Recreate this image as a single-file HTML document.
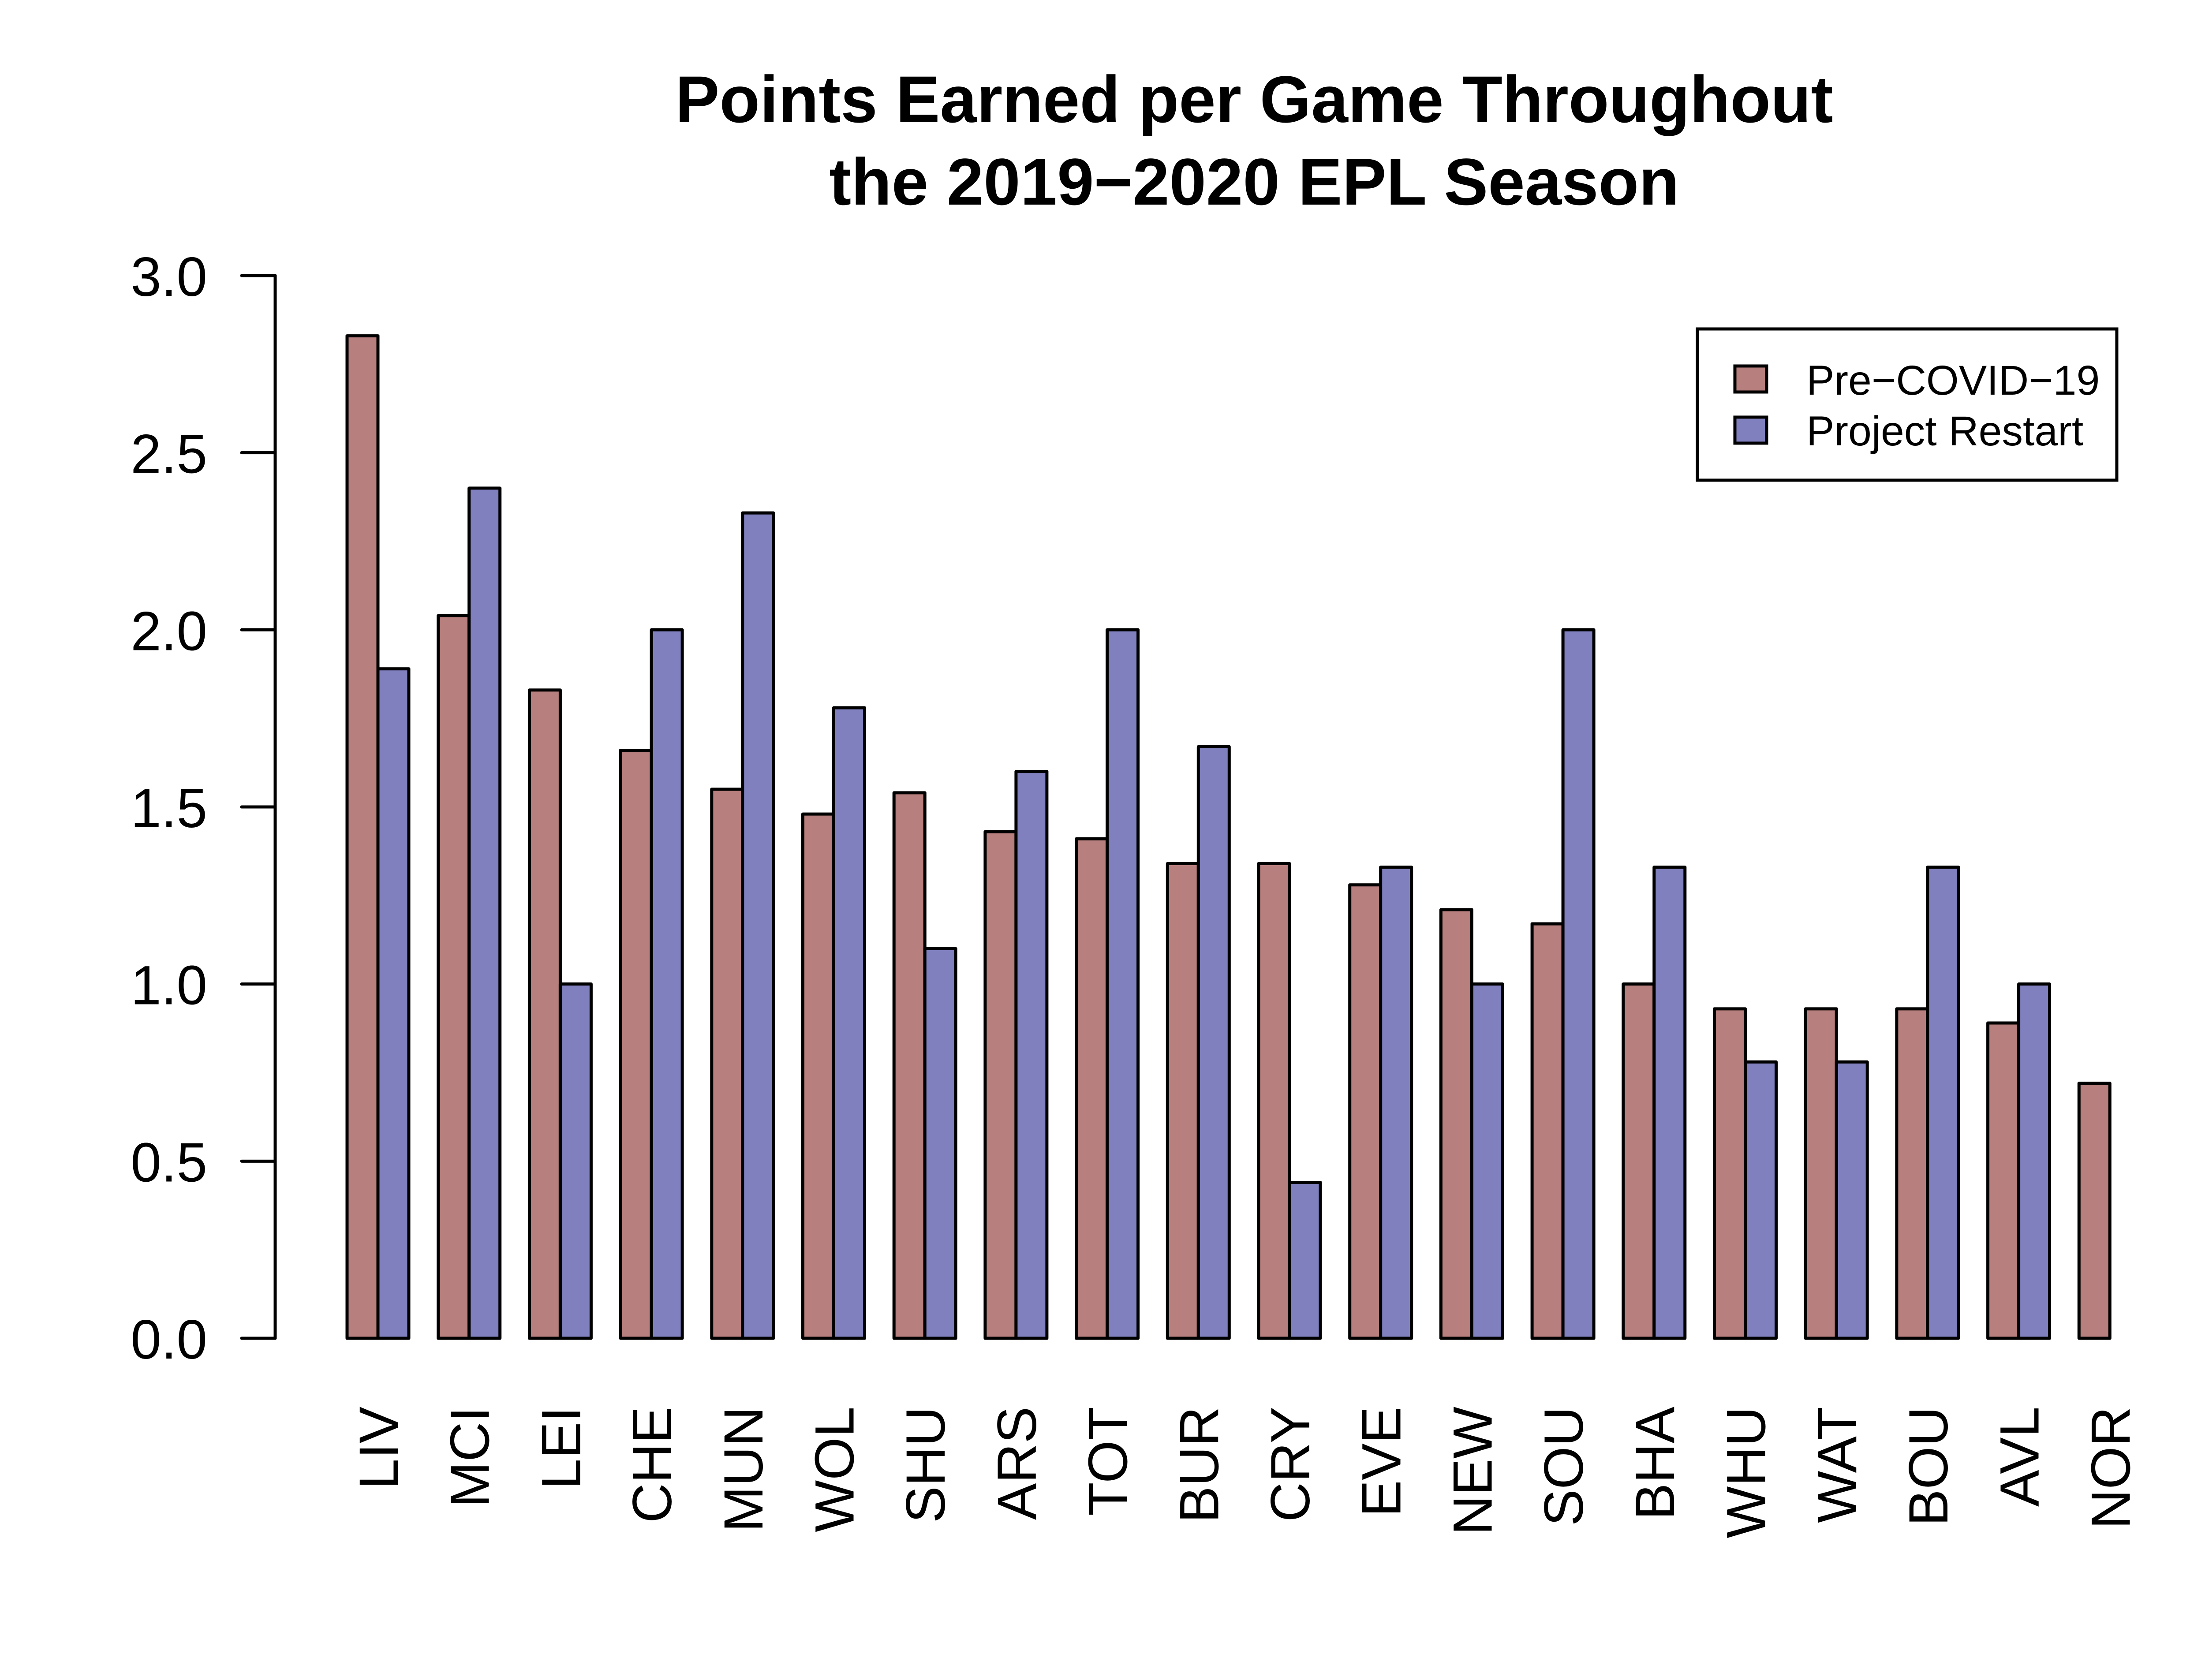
<!DOCTYPE html>
<html><head><meta charset="utf-8"><style>html,body{margin:0;padding:0;background:#fff;width:5334px;height:3810px;overflow:hidden}svg{display:block}</style></head>
<body>
<svg id="chart" xmlns="http://www.w3.org/2000/svg" width="5334" height="3810" viewBox="0 0 5334 3810" font-family="'Liberation Sans', Arial, sans-serif">
<rect width="5334" height="3810" fill="#fff"/>
<g font-weight="bold" font-size="150" text-anchor="middle">
<text x="2844" y="277">Points Earned per Game Throughout</text>
<text x="2844" y="464">the 2019−2020 EPL Season</text>
</g>
<g id="yaxis"></g>
<g id="bars"></g>
<g id="xlabels"></g>
<g>
<rect x="3849" y="746" width="951" height="343" fill="#fff" stroke="#000" stroke-width="7"/>
<rect x="3934" y="830" width="72" height="59" fill="#b77f7d" stroke="#000" stroke-width="7"/>
<rect x="3934" y="946" width="72" height="59" fill="#8080bf" stroke="#000" stroke-width="7"/>
<text x="4096" y="895" font-size="95">Pre−COVID−19</text>
<text x="4096" y="1010" font-size="95">Project Restart</text>
</g>
</svg>
<script>
const teams = ["LIV","MCI","LEI","CHE","MUN","WOL","SHU","ARS","TOT","BUR","CRY","EVE","NEW","SOU","BHA","WHU","WAT","BOU","AVL","NOR"];
const preCovid = [2.83,2.04,1.83,1.66,1.55,1.48,1.54,1.43,1.41,1.34,1.34,1.28,1.21,1.17,1.00,0.93,0.93,0.93,0.89,0.72];
const projectRestart = [1.89,2.40,1.00,2.00,2.33,1.78,1.10,1.60,2.00,1.67,0.44,1.33,1.00,2.00,1.33,0.78,0.78,1.33,1.00,0.00];
const yTicks = [0,0.5,1,1.5,2,2.5,3];
const yTickLabels = ["0.0","0.5","1.0","1.5","2.0","2.5","3.0"];

const NS = "http://www.w3.org/2000/svg";
const y0 = 3035, y3 = 625;
function yScale(v){ return y0 - (v/3)*(y0-y3); }
const barW = 70, groupW = 206.7, x0 = 787;
function xScale(i){ return x0 + i*groupW; }
function mk(tag, attrs, parent){ const e=document.createElementNS(NS,tag); for(const k in attrs) e.setAttribute(k,attrs[k]); parent.appendChild(e); return e; }

const ya = document.getElementById('yaxis');
let l = mk('line',{x1:624,x2:624,y1:yScale(0),y2:yScale(3),stroke:'#000','stroke-width':7,'stroke-linecap':'round'},ya);


yTicks.forEach((t,i)=>{
  const y=yScale(t);
  const tk=mk('line',{x1:548,x2:624,y1:y,y2:y,stroke:'#000','stroke-width':7,'stroke-linecap':'round'},ya);
  
  
  const tx=mk('text',{x:470,y:y+46,'font-size':125,'text-anchor':'end'},ya);
  tx.textContent=yTickLabels[i];
  
  
});

const bg=document.getElementById('bars');
const xl=document.getElementById('xlabels');
teams.forEach((t,i)=>{
  const x=xScale(i);
  const a=mk('rect',{x:x,y:yScale(preCovid[i]),width:barW,height:yScale(0)-yScale(preCovid[i]),fill:'#b77f7d',stroke:'#000','stroke-width':7,'stroke-linejoin':'round'},bg);
  
  
  const b=mk('rect',{x:x+barW,y:yScale(projectRestart[i]),width:barW,height:yScale(0)-yScale(projectRestart[i]),fill:'#8080bf',stroke:'#000','stroke-width':7,'stroke-linejoin':'round'},bg);
  
  
  const cx=x+barW;
  const tx=mk('text',{transform:'translate('+(cx+45)+',3190) rotate(-90)','font-size':125,'text-anchor':'end'},xl);
  tx.textContent=t;
  
  
});
</script>
</body></html>
